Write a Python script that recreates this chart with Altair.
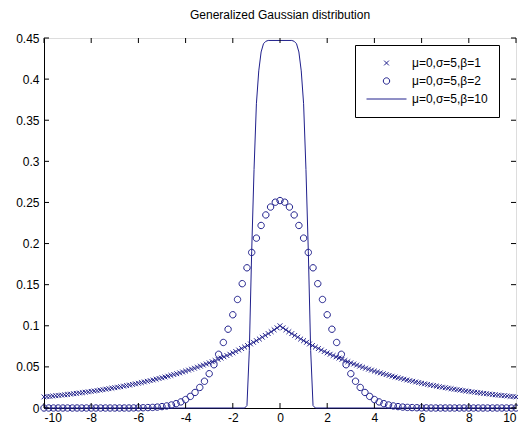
import altair as alt
import pandas as pd

TITLE = "Generalized Gaussian distribution"
LABELS = ["μ=0,σ=5,β=1", "μ=0,σ=5,β=2", "μ=0,σ=5,β=10"]
X_TICKS = [-10, -8, -6, -4, -2, 0, 2, 4, 6, 8, 10]
Y_TICKS = [0, 0.05, 0.1, 0.15, 0.2, 0.25, 0.3, 0.35, 0.4, 0.45]

# beta = 1 series (x markers), sampled every 0.125 from -10 to 10
CROSS_START, CROSS_STEP = -10, 0.125
CROSS_Y = [
    0.0135, 0.0139, 0.0142, 0.0146, 0.0150, 0.0153, 0.0157, 0.0161, 0.0165, 0.0169,
    0.0174, 0.0178, 0.0183, 0.0187, 0.0192, 0.0197, 0.0202, 0.0207, 0.0212, 0.0218,
    0.0223, 0.0229, 0.0235, 0.0241, 0.0247, 0.0253, 0.0259, 0.0266, 0.0273, 0.0279,
    0.0287, 0.0294, 0.0301, 0.0309, 0.0317, 0.0325, 0.0333, 0.0341, 0.0350, 0.0359,
    0.0368, 0.0377, 0.0387, 0.0397, 0.0407, 0.0417, 0.0427, 0.0438, 0.0449, 0.0461,
    0.0472, 0.0484, 0.0497, 0.0509, 0.0522, 0.0535, 0.0549, 0.0563, 0.0577, 0.0592,
    0.0607, 0.0622, 0.0638, 0.0654, 0.0670, 0.0687, 0.0705, 0.0723, 0.0741, 0.0760,
    0.0779, 0.0799, 0.0819, 0.0839, 0.0861, 0.0883, 0.0905, 0.0928, 0.0951, 0.0975,
    0.1000,
    0.0975, 0.0951, 0.0928, 0.0905, 0.0883, 0.0861, 0.0839, 0.0819, 0.0799, 0.0779,
    0.0760, 0.0741, 0.0723, 0.0705, 0.0687, 0.0670, 0.0654, 0.0638, 0.0622, 0.0607,
    0.0592, 0.0577, 0.0563, 0.0549, 0.0535, 0.0522, 0.0509, 0.0497, 0.0484, 0.0472,
    0.0461, 0.0449, 0.0438, 0.0427, 0.0417, 0.0407, 0.0397, 0.0387, 0.0377, 0.0368,
    0.0359, 0.0350, 0.0341, 0.0333, 0.0325, 0.0317, 0.0309, 0.0301, 0.0294, 0.0287,
    0.0279, 0.0273, 0.0266, 0.0259, 0.0253, 0.0247, 0.0241, 0.0235, 0.0229, 0.0223,
    0.0218, 0.0212, 0.0207, 0.0202, 0.0197, 0.0192, 0.0187, 0.0183, 0.0178, 0.0174,
    0.0169, 0.0165, 0.0161, 0.0157, 0.0153, 0.0150, 0.0146, 0.0142, 0.0139, 0.0135,
]

# beta = 2 series (circles), sampled every 0.2 from -10 to 10
CIRCLE_START, CIRCLE_STEP = -10, 0.2
CIRCLE_Y = [
    0, 0, 0, 0, 0, 0, 0, 0, 0, 0,
    0, 0, 0, 0, 0, 0, 0, 0, 0, 0.0001,
    0.0002, 0.0003, 0.0005, 0.0007, 0.0011, 0.0017, 0.0025, 0.0037, 0.0053, 0.0074,
    0.0103, 0.0141, 0.0189, 0.0250, 0.0325, 0.0417, 0.0526, 0.0653, 0.0797, 0.0958,
    0.1134, 0.1320, 0.1512, 0.1705, 0.1892, 0.2066, 0.2220, 0.2348, 0.2444, 0.2503,
    0.2523,
    0.2503, 0.2444, 0.2348, 0.2220, 0.2066, 0.1892, 0.1705, 0.1512, 0.1320, 0.1134,
    0.0958, 0.0797, 0.0653, 0.0526, 0.0417, 0.0325, 0.0250, 0.0189, 0.0141, 0.0103,
    0.0074, 0.0053, 0.0037, 0.0025, 0.0017, 0.0011, 0.0007, 0.0005, 0.0003, 0.0002,
    0.0001, 0, 0, 0, 0, 0, 0, 0, 0, 0,
    0, 0, 0, 0, 0, 0, 0, 0, 0, 0,
]

# beta = 10 series (solid line)
LINE_X = [-10, -1.5, -1.4, -1.3, -1.2, -1.1, -1.0, -0.9, -0.8, -0.7, -0.6, -0.5, 0,
          0.5, 0.6, 0.7, 0.8, 0.9, 1.0, 1.1, 1.2, 1.3, 1.4, 1.5, 10]
LINE_Y = [0, 0, 0.003, 0.07, 0.19, 0.29, 0.37, 0.41, 0.433, 0.443, 0.446, 0.447, 0.447,
          0.447, 0.446, 0.443, 0.433, 0.41, 0.37, 0.29, 0.19, 0.07, 0.003, 0, 0]

W, H = 472, 370
COLOR = "#20208c"
FONT = "Liberation Sans"

cross_df = pd.DataFrame({
    "x": [CROSS_START + i * CROSS_STEP for i in range(len(CROSS_Y))],
    "y": CROSS_Y,
    "series": LABELS[0],
})
circle_df = pd.DataFrame({
    "x": [CIRCLE_START + i * CIRCLE_STEP for i in range(len(CIRCLE_Y))],
    "y": CIRCLE_Y,
    "series": LABELS[1],
})
line_df = pd.DataFrame({"x": LINE_X, "y": LINE_Y})
xt_df = pd.DataFrame({"t": X_TICKS})
yt_df = pd.DataFrame({"t": Y_TICKS})

xscale = alt.Scale(domain=[-10, 10], nice=False, zero=False)
yscale = alt.Scale(domain=[0, 0.45], nice=False)
xaxis = alt.Axis(values=X_TICKS, tickSize=0, grid=False, labelPadding=4,
                 labelExpr="toString(datum.value)", labelFontSize=12,
                 labelFont=FONT, labelColor="black", domainColor="black")
yaxis = alt.Axis(values=Y_TICKS, tickSize=0, grid=False, labelPadding=5,
                 labelExpr="toString(datum.value)", labelFontSize=12,
                 labelFont=FONT, labelColor="black", domainColor="black")

X_PATH = "M-0.12,-0.12L0.12,0.12M0.12,-0.12L-0.12,0.12"
C_PATH = ("M0.16,0L0.1478,0.0612L0.1131,0.1131L0.0612,0.1478L0,0.16"
          "L-0.0612,0.1478L-0.1131,0.1131L-0.1478,0.0612L-0.16,0"
          "L-0.1478,-0.0612L-0.1131,-0.1131L-0.0612,-0.1478L0,-0.16"
          "L0.0612,-0.1478L0.1131,-0.1131L0.1478,-0.0612Z")
L_PATH = "M-1,0L1,0"

legend = alt.Legend(
    title=None, orient="none", legendX=311, legendY=7,
    strokeColor="black", fillColor="white", padding=11, cornerRadius=0,
    symbolSize=1600, symbolStrokeWidth=1, symbolStrokeColor=COLOR,
    symbolFillColor="transparent", labelFont=FONT, labelFontSize=12,
    labelColor="black", labelOffset=5, rowPadding=4, clipHeight=14,
)
shape = alt.Shape("series:N",
                  scale=alt.Scale(domain=LABELS, range=[X_PATH, C_PATH, L_PATH]),
                  legend=legend)

X = lambda f: alt.X(f, scale=xscale, axis=xaxis, title=None)
Y = lambda f: alt.Y(f, scale=yscale, axis=yaxis, title=None)

crosses = alt.Chart(cross_df).mark_point(
    filled=False, size=1600, strokeWidth=1, color=COLOR, opacity=1
).encode(x=X("x:Q"), y=Y("y:Q"), shape=shape)

circles = alt.Chart(circle_df).mark_point(
    filled=False, size=1600, strokeWidth=1, color=COLOR, opacity=1
).encode(x=X("x:Q"), y=Y("y:Q"), shape=shape)

line = alt.Chart(line_df).mark_line(color=COLOR, strokeWidth=1).encode(
    x=X("x:Q"), y=Y("y:Q")
)

tick_len = 5
bt = alt.Chart(xt_df).mark_rule(color="black", strokeWidth=1).encode(
    x=X("t:Q"), y=alt.value(H), y2=alt.value(H - tick_len))
tt = alt.Chart(xt_df).mark_rule(color="black", strokeWidth=1).encode(
    x=X("t:Q"), y=alt.value(0), y2=alt.value(tick_len))
lt = alt.Chart(yt_df).mark_rule(color="black", strokeWidth=1).encode(
    y=Y("t:Q"), x=alt.value(0), x2=alt.value(tick_len))
rt = alt.Chart(yt_df).mark_rule(color="black", strokeWidth=1).encode(
    y=Y("t:Q"), x=alt.value(W - tick_len), x2=alt.value(W))

chart = alt.layer(line, circles, crosses, bt, tt, lt, rt).properties(
    width=W, height=H,
    title=alt.TitleParams(TITLE, fontSize=12, font=FONT, fontWeight="normal",
                          offset=10, anchor="middle", color="black"),
    autosize=alt.AutoSizeParams(type="none"),
    padding={"left": 44, "top": 38, "right": 2, "bottom": 20},
).configure_view(stroke="black", strokeWidth=1).configure(background="white")

chart.save("out.html", embed_options={"renderer": "svg", "actions": False})
